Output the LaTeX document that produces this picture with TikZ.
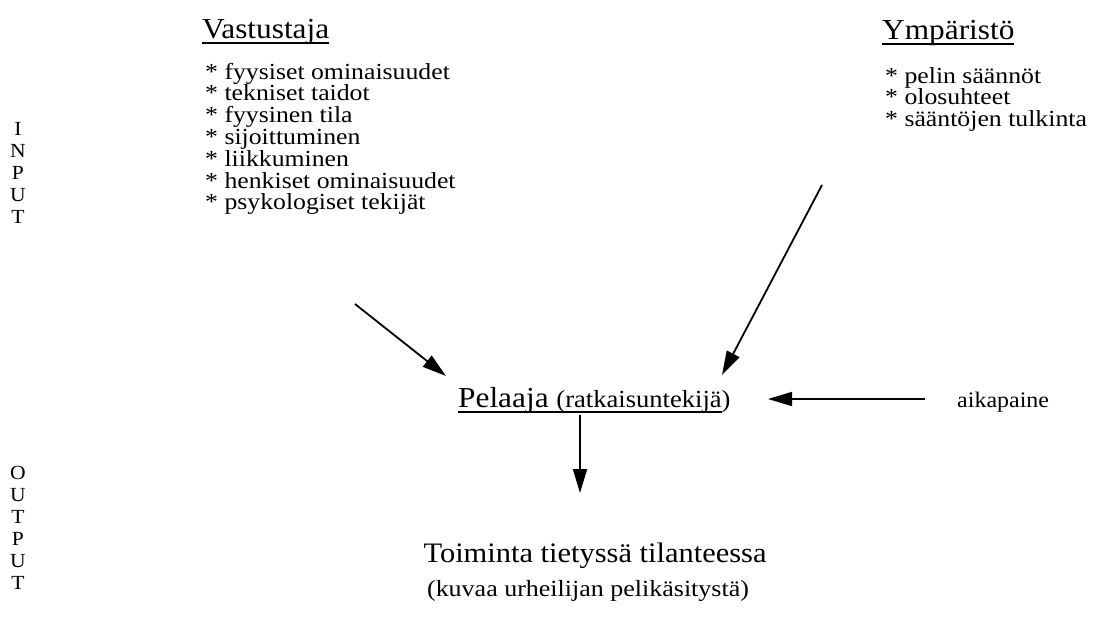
\documentclass[tikz,border=0pt]{standalone}
\usepackage{fontspec}
\setmainfont[FakeStretch=1.08]{Liberation Serif}
\newfontfamily\listfont[FakeStretch=1.12]{Liberation Serif}
\usetikzlibrary{arrows.meta}
\newcommand\myfs[1]{\fontsize{#1}{#1}\selectfont}
\newcommand\myul[1]{{\setbox0=\hbox{#1}\rlap{\rule[-5.5pt]{\wd0}{1.3pt}}\box0}}
\begin{document}
\begin{tikzpicture}[x=1pt,y=-1pt,
  txt/.style={inner sep=0pt, anchor=base west},
  ctxt/.style={inner sep=0pt, anchor=base},
  item/.style={txt, font=\listfont\myfs{23}},
  arr/.style={line width=1.8pt, -{Triangle[length=24pt,width=14pt]}}]
\useasboundingbox (0,0) rectangle (1095,641);

% INPUT / OUTPUT
\foreach \l [count=\i] in {I,N,P,U,T}
  \node[ctxt, font=\myfs{20}] (in\i) at (18,{135+(\i-1)*22}) {\l};
\foreach \l [count=\i] in {O,U,T,P,U,T}
  \node[ctxt, font=\myfs{20}] (out\i) at (18,{479+(\i-1)*22}) {\l};

% Vastustaja
\node[txt, font=\myfs{29}] (vast) at (202,38) {\myul{Vastustaja}};
\foreach \t [count=\i] in {* fyysiset ominaisuudet,* tekniset taidot,* fyysinen tila,* sijoittuminen,* liikkuminen,* henkiset ominaisuudet,* psykologiset tekijät}
  \node[item] (v\i) at (205,{79+(\i-1)*21.8}) {\t};

% Ympäristö
\node[txt, font=\myfs{29}] (ymp) at (882,39) {\myul{Ympäristö}};
\foreach \t [count=\i] in {* pelin säännöt,* olosuhteet,* sääntöjen tulkinta}
  \node[item] (y\i) at (885,{83+(\i-1)*21.8}) {\t};

% Pelaaja
\node[txt] (pel) at (458,407) {\myfs{29}\myul{Pelaaja {\myfs{24.6}(ratkaisuntekijä}}{\myfs{24.6})}};
\node[txt, font=\myfs{22.2}] (aik) at (957,407) {aikapaine};

% Toiminta
\node[ctxt, font=\myfs{28.2}] (toim) at (595,562) {Toiminta tietyssä tilanteessa};
\node[ctxt, font=\listfont\myfs{23.2}] (kuv) at (588,596) {(kuvaa urheilijan pelikäsitystä)};

% connector ends
\coordinate (v-tail) at (355,304);
\coordinate (pel-nw) at (446,376);
\coordinate (y-tail) at (822,185);
\coordinate (pel-ne) at (722,375);
\coordinate (aik-tail) at (925,399);
\coordinate (pel-e) at (768,399);
\coordinate (pel-s) at (580,415);
\coordinate (toim-n) at (580,493);

\draw[arr] (v-tail) -- (pel-nw);
\draw[arr] (y-tail) -- (pel-ne);
\draw[arr] (aik-tail) -- (pel-e);
\draw[arr] (pel-s) -- (toim-n);
\end{tikzpicture}
\end{document}
